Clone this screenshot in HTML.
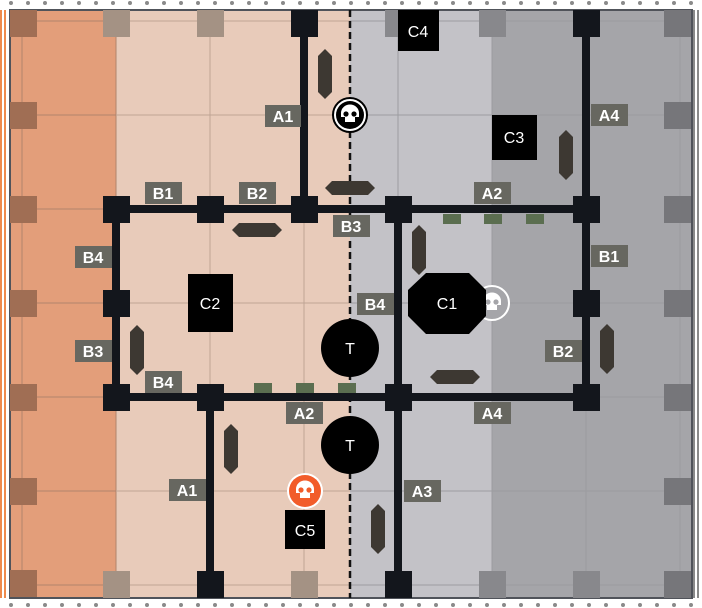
<!DOCTYPE html>
<html><head><style>body{margin:0;background:#fff}svg{display:block}text{font-family:"Liberation Sans",sans-serif}</style></head><body>
<svg width="702" height="608" viewBox="0 0 702 608" xmlns="http://www.w3.org/2000/svg">
<defs>
<g id="sk"><path d="M-9,-1 a9,8.5 0 1 1 18,0 v4 h-4 v5 h-10 v-5 h-4z" fill="currentColor"/><circle cx="-4" cy="0" r="2.6" fill="var(--e)"/><circle cx="4" cy="0" r="2.6" fill="var(--e)"/></g>
<path id="hv" d="M0,-25 L7,-18 V18 L0,25 L-7,18 V-18Z" fill="#3D3832"/>
<path id="hh" d="M-25,0 L-18,-7 H18 L25,0 L18,7 H-18Z" fill="#3D3832"/>
</defs>
<g fill="#8a8a8a"><g id="dots">
<circle cx="11" cy="3" r="2"/><circle cx="28" cy="3" r="2"/><circle cx="45" cy="3" r="2"/><circle cx="62" cy="3" r="2"/><circle cx="79" cy="3" r="2"/><circle cx="96" cy="3" r="2"/><circle cx="113" cy="3" r="2"/><circle cx="130" cy="3" r="2"/><circle cx="147" cy="3" r="2"/><circle cx="164" cy="3" r="2"/><circle cx="181" cy="3" r="2"/><circle cx="198" cy="3" r="2"/><circle cx="215" cy="3" r="2"/><circle cx="232" cy="3" r="2"/><circle cx="249" cy="3" r="2"/><circle cx="266" cy="3" r="2"/><circle cx="283" cy="3" r="2"/><circle cx="300" cy="3" r="2"/><circle cx="317" cy="3" r="2"/><circle cx="334" cy="3" r="2"/><circle cx="351" cy="3" r="2"/><circle cx="368" cy="3" r="2"/><circle cx="385" cy="3" r="2"/><circle cx="402" cy="3" r="2"/><circle cx="419" cy="3" r="2"/><circle cx="436" cy="3" r="2"/><circle cx="453" cy="3" r="2"/><circle cx="470" cy="3" r="2"/><circle cx="487" cy="3" r="2"/><circle cx="504" cy="3" r="2"/><circle cx="521" cy="3" r="2"/><circle cx="538" cy="3" r="2"/><circle cx="555" cy="3" r="2"/><circle cx="572" cy="3" r="2"/><circle cx="589" cy="3" r="2"/><circle cx="606" cy="3" r="2"/><circle cx="623" cy="3" r="2"/><circle cx="640" cy="3" r="2"/><circle cx="657" cy="3" r="2"/><circle cx="674" cy="3" r="2"/><circle cx="691" cy="3" r="2"/>
</g><use href="#dots" y="602"/></g>
<rect x="0" y="10" width="2" height="588" fill="#EE8A4C"/><rect x="4" y="10" width="2" height="588" fill="#EE8A4C"/>
<rect x="693" y="10" width="2" height="588" fill="#8a8a8a"/><rect x="697" y="10" width="2" height="588" fill="#8a8a8a"/>
<rect x="10" y="10" width="106" height="588" fill="#E39E7A"/>
<rect x="116" y="10" width="234" height="588" fill="#E8CBBA"/>
<rect x="350" y="10" width="142" height="588" fill="#C3C2C7"/>
<rect x="492" y="10" width="200" height="588" fill="#A5A5A9"/>
<g stroke-width="1">
<g stroke="#B0846C"><line x1="22" y1="10" x2="22" y2="598"/><line x1="10" y1="115" x2="116" y2="115"/><line x1="10" y1="209" x2="116" y2="209"/><line x1="10" y1="303" x2="116" y2="303"/><line x1="10" y1="397" x2="116" y2="397"/><line x1="10" y1="491" x2="116" y2="491"/><line x1="10" y1="21" x2="116" y2="21"/><line x1="10" y1="585" x2="116" y2="585"/><line x1="116" y1="10" x2="116" y2="598"/></g>
<g stroke="#BFA494"><line x1="210" y1="10" x2="210" y2="598"/><line x1="304" y1="10" x2="304" y2="598"/><line x1="116" y1="21" x2="350" y2="21"/><line x1="116" y1="115" x2="350" y2="115"/><line x1="116" y1="303" x2="350" y2="303"/><line x1="116" y1="491" x2="350" y2="491"/><line x1="116" y1="585" x2="350" y2="585"/></g>
<g stroke="#9C9CA0"><line x1="398" y1="10" x2="398" y2="598"/><line x1="492" y1="10" x2="492" y2="598"/><line x1="586" y1="10" x2="586" y2="598"/><line x1="680" y1="10" x2="680" y2="598"/><line x1="350" y1="21" x2="692" y2="21"/><line x1="350" y1="115" x2="692" y2="115"/><line x1="350" y1="303" x2="692" y2="303"/><line x1="350" y1="491" x2="692" y2="491"/><line x1="350" y1="585" x2="692" y2="585"/><line x1="350" y1="397" x2="692" y2="397"/></g>
</g>
<rect x="10" y="10" width="682" height="588" fill="none" stroke="#50535A" stroke-width="2"/>
<g fill="#A06E54"><rect x="10" y="10" width="27" height="27"/><rect x="10" y="102" width="27" height="27"/><rect x="10" y="196" width="27" height="27"/><rect x="10" y="290" width="27" height="27"/><rect x="10" y="384" width="27" height="27"/><rect x="10" y="478" width="27" height="27"/><rect x="10" y="570" width="27" height="27"/></g>
<g fill="#A49284"><rect x="103" y="10" width="27" height="27"/><rect x="197" y="10" width="27" height="27"/><rect x="103" y="571" width="27" height="27"/><rect x="291" y="571" width="27" height="27"/></g>
<g fill="#88888C"><rect x="385" y="10" width="27" height="27"/><rect x="479" y="10" width="27" height="27"/><rect x="479" y="571" width="27" height="27"/><rect x="573" y="571" width="27" height="27"/></g>
<g fill="#76767A"><rect x="664" y="10" width="27" height="27"/><rect x="664" y="102" width="27" height="27"/><rect x="664" y="196" width="27" height="27"/><rect x="664" y="290" width="27" height="27"/><rect x="664" y="384" width="27" height="27"/><rect x="664" y="478" width="27" height="27"/><rect x="664" y="571" width="27" height="27"/></g>
<line x1="350" y1="10" x2="350" y2="598" stroke="#111" stroke-width="2.5" stroke-dasharray="7,4"/>
<g fill="#5B6E50"><rect x="443" y="214" width="18" height="10"/><rect x="484" y="214" width="18" height="10"/><rect x="526" y="214" width="18" height="10"/><rect x="254" y="383" width="18" height="10"/><rect x="296" y="383" width="18" height="10"/><rect x="338" y="383" width="18" height="10"/></g>
<g stroke="#13161C" stroke-width="8"><line x1="304" y1="22" x2="304" y2="209"/><line x1="116" y1="209" x2="586" y2="209"/><line x1="586" y1="22" x2="586" y2="397"/><line x1="116" y1="209" x2="116" y2="397"/><line x1="116" y1="397" x2="586" y2="397"/><line x1="398" y1="209" x2="398" y2="585"/><line x1="210" y1="397" x2="210" y2="585"/></g>
<g fill="#13161C"><rect x="291" y="10" width="27" height="27"/><rect x="573" y="10" width="27" height="27"/><rect x="103" y="196" width="27" height="27"/><rect x="197" y="196" width="27" height="27"/><rect x="291" y="196" width="27" height="27"/><rect x="385" y="196" width="27" height="27"/><rect x="573" y="196" width="27" height="27"/><rect x="103" y="290" width="27" height="27"/><rect x="573" y="290" width="27" height="27"/><rect x="103" y="384" width="27" height="27"/><rect x="197" y="384" width="27" height="27"/><rect x="385" y="384" width="27" height="27"/><rect x="573" y="384" width="27" height="27"/><rect x="197" y="571" width="27" height="27"/><rect x="385" y="571" width="27" height="27"/></g>
<use href="#hv" x="325" y="74"/><use href="#hv" x="566" y="155"/><use href="#hv" x="419" y="250"/><use href="#hv" x="137" y="350"/><use href="#hv" x="607" y="349"/><use href="#hv" x="231" y="449"/><use href="#hv" x="378" y="529"/>
<use href="#hh" x="350" y="188"/><use href="#hh" x="257" y="230"/><use href="#hh" x="455" y="377"/>
<circle cx="350" cy="115" r="17" fill="#fff" stroke="#000" stroke-width="2"/><circle cx="350" cy="115" r="14" fill="#000"/><use href="#sk" x="350" y="114" color="#fff" style="--e:#000"/>
<circle cx="492" cy="303" r="17" fill="#A5A5A9" stroke="#fff" stroke-width="2"/><use href="#sk" x="492" y="302" color="#fff" style="--e:#A5A5A9"/>
<circle cx="305" cy="491" r="18" fill="#fff"/><circle cx="305" cy="491" r="16" fill="#F25C2A"/><use href="#sk" x="305" y="490" color="#fff" style="--e:#F25C2A"/>
<g fill="#000"><rect x="398" y="10" width="41" height="41"/><rect x="492" y="115" width="45" height="45"/><rect x="188" y="274" width="45" height="58"/><rect x="285" y="510" width="40" height="39"/>
<path d="M426,273 H469 L486,290 V316 L469,334 H426 L408,316 V290Z"/>
<circle cx="350" cy="348" r="29"/><circle cx="350" cy="445" r="29"/></g>
<g fill="#fff" font-size="16" text-anchor="middle"><text x="418" y="37">C4</text><text x="514" y="143">C3</text><text x="210" y="309">C2</text><text x="305" y="536">C5</text><text x="447" y="309">C1</text><text x="350" y="354">T</text><text x="350" y="451">T</text></g>
<g fill="#676760"><rect x="265" y="105" width="36" height="22"/><rect x="145" y="182" width="37" height="22"/><rect x="239" y="182" width="37" height="22"/><rect x="333" y="215" width="37" height="22"/><rect x="474" y="182" width="37" height="22"/><rect x="591" y="104" width="37" height="22"/><rect x="75" y="246" width="37" height="22"/><rect x="591" y="245" width="37" height="22"/><rect x="357" y="293" width="37" height="22"/><rect x="75" y="340" width="37" height="22"/><rect x="545" y="340" width="37" height="22"/><rect x="145" y="371" width="37" height="22"/><rect x="286" y="402" width="37" height="22"/><rect x="474" y="402" width="37" height="22"/><rect x="169" y="479" width="37" height="22"/><rect x="404" y="480" width="37" height="22"/></g>
<g fill="#fff" font-size="16" font-weight="bold" text-anchor="middle">
<text x="283" y="122">A1</text><text x="163" y="199">B1</text><text x="257" y="199">B2</text><text x="351" y="232">B3</text><text x="492" y="199">A2</text><text x="609" y="121">A4</text><text x="93" y="263">B4</text><text x="609" y="262">B1</text><text x="375" y="310">B4</text><text x="93" y="357">B3</text><text x="563" y="357">B2</text><text x="163" y="388">B4</text><text x="304" y="419">A2</text><text x="492" y="419">A4</text><text x="187" y="496">A1</text><text x="422" y="497">A3</text></g>
</svg>
</body></html>
